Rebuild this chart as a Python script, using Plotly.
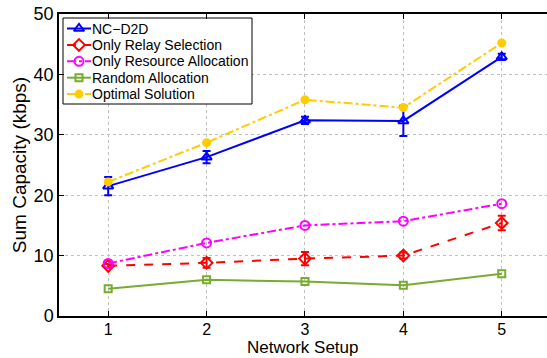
import plotly.graph_objects as go

setups = [1, 2, 3, 4, 5]
nc_d2d = [21.5, 26.3, 32.4, 32.3, 42.9]
nc_d2d_err = [1.5, 1.0, 0.6, 2.5, 0.5]
only_relay = [8.3, 8.8, 9.5, 10.0, 15.4]
only_relay_err = [0.3, 0.8, 1.1, 0.5, 1.2]
only_resource = [8.7, 12.1, 15.0, 15.7, 18.6]
random_alloc = [4.5, 6.0, 5.7, 5.1, 7.0]
optimal = [22.2, 28.7, 35.8, 34.5, 45.2]
y_ticks = [0, 10, 20, 30, 40, 50]

series_names = ["NC\u2212D2D", "Only Relay Selection", "Only Resource Allocation",
                "Random Allocation", "Optimal Solution"]
series_colors = ["#0000ff", "#ff0000", "#ff00ff", "#77ac30", "#ffcc00"]
series_dash = ["solid", "dash", "dashdot", "solid", "dashdot"]
series_symbol = ["triangle-up-open", "diamond-open", "circle-open", "square-open", "circle"]
series_msize = [9, 9, 9, 7, 7]
series_values = [nc_d2d, only_relay, only_resource, random_alloc, optimal]
series_err = [nc_d2d_err, only_relay_err, None, None, None]

W, H = 547, 358
ML, MR, MT, MB = 59, 0, 14, 42
XR = [0.5, 5.46]
YR = [0, 50]
PLOT_H = H - MB - MT


def px_to_x(px):
    return XR[0] + (px - ML) * (XR[1] - XR[0]) / (W - MR - ML)


def py_to_y(py):
    return YR[0] + (H - MB - py) * (YR[1] - YR[0]) / PLOT_H


fig = go.Figure()
for name, col, dash, sym, ms, vals, err in zip(series_names, series_colors, series_dash,
                                                 series_symbol, series_msize, series_values, series_err):
    kw = {}
    if err is not None:
        kw["error_y"] = dict(type="data", array=err, color=col, thickness=2, width=4)
    fig.add_trace(go.Scatter(
        x=setups, y=vals, name=name, mode="lines+markers", showlegend=False,
        line=dict(color=col, width=2, dash=dash),
        marker=dict(symbol=sym, size=ms, color=col, line=dict(width=2, color=col)), **kw))

# Custom legend drawn in pixel coordinates on overlay axes
leg_x0, leg_x1, leg_y0, leg_y1 = 63, 252, 18, 104
row_y = [28.5, 44.9, 61.3, 77.7, 94.1]
fig.add_shape(type="rect", xref="x", yref="y",
              x0=px_to_x(leg_x0), x1=px_to_x(leg_x1), y0=py_to_y(leg_y0), y1=py_to_y(leg_y1),
              fillcolor="white", line=dict(color="black", width=1), layer="between")
for name, col, dash, sym, ms, yc in zip(series_names, series_colors, series_dash,
                                         series_symbol, series_msize, row_y):
    fig.add_trace(go.Scatter(x=[67, 91], y=[yc, yc], xaxis="x2", yaxis="y2", mode="lines",
                             line=dict(color=col, width=2, dash=dash), showlegend=False,
                             hoverinfo="skip"))
    fig.add_trace(go.Scatter(x=[79], y=[yc], xaxis="x2", yaxis="y2", mode="markers",
                             marker=dict(symbol=sym, size=ms, color=col, line=dict(width=2, color=col)),
                             showlegend=False, hoverinfo="skip"))
    fig.add_annotation(x=90, y=yc, xref="x2", yref="y2", text=name, showarrow=False,
                       xanchor="left", yanchor="middle", font=dict(size=14, color="black"))

# x-axis title as text placed under the tick labels (paper coordinates)
fig.add_annotation(x=0.5, y=-(347 - (H - MB)) / PLOT_H, xref="paper", yref="paper",
                   text="Network Setup", showarrow=False, xanchor="center", yanchor="middle",
                   borderpad=0, font=dict(size=17, color="black"))

fig.update_layout(
    width=W, height=H,
    margin=dict(l=ML, r=MR, t=MT, b=MB, pad=0),
    plot_bgcolor="white", paper_bgcolor="white",
    font=dict(family="Liberation Sans, Arial, sans-serif", color="black", size=18),
    showlegend=False,
    xaxis2=dict(overlaying="x", range=[ML, W - MR], visible=False, fixedrange=True),
    yaxis2=dict(overlaying="y", range=[H - MB, MT], visible=False, fixedrange=True),
)
fig.layout.xaxis.update(
    range=XR, tickvals=setups, ticktext=[str(s) for s in setups],
    showline=True, linecolor="black", linewidth=1.5, mirror="ticks",
    ticks="inside", ticklen=5, tickcolor="black",
    showgrid=True, gridcolor="#c0c0c0", griddash="dot", gridwidth=1,
    zeroline=False, tickfont=dict(size=16), ticklabelstandoff=-2,
)
fig.layout.yaxis.update(
    range=YR, tickvals=y_ticks,
    showline=True, linecolor="black", linewidth=1.5, mirror=False,
    ticks="inside", ticklen=5, tickcolor="black",
    showgrid=True, gridcolor="#c0c0c0", griddash="dot", gridwidth=1,
    zeroline=False, tickfont=dict(size=18),
    title=dict(text="Sum Capacity (kbps)", font=dict(size=19), standoff=2),
)

fig.write_html("out.html")
